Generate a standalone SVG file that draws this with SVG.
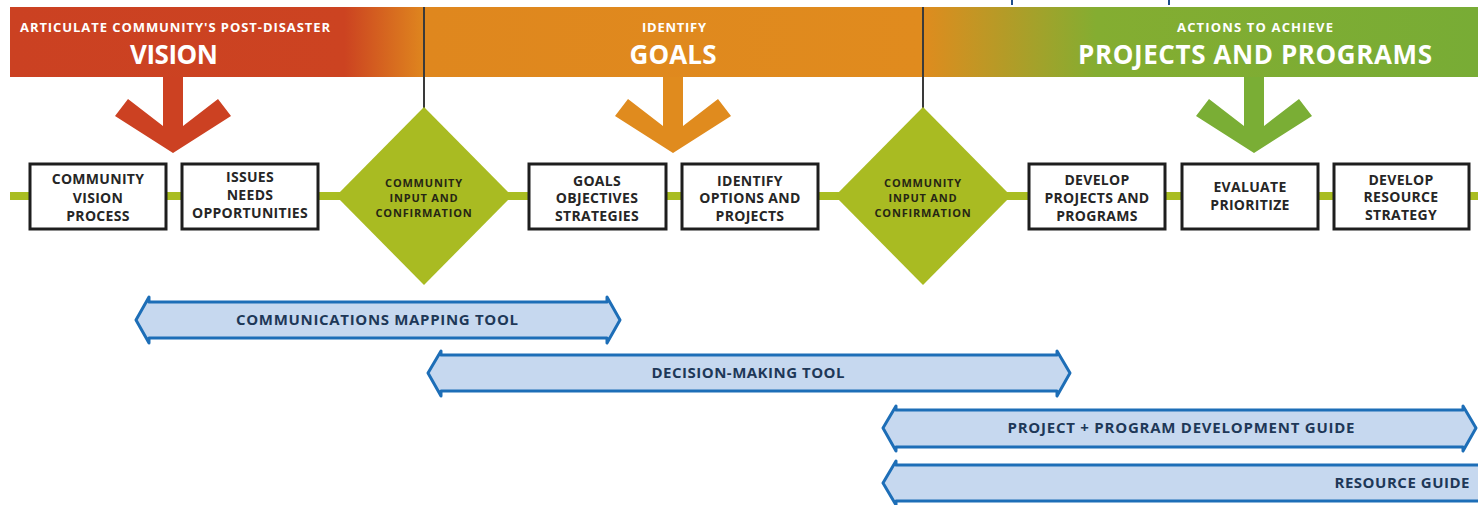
<svg xmlns="http://www.w3.org/2000/svg" width="1478" height="505" viewBox="0 0 1478 505">
<defs>
<linearGradient id="bandGrad" gradientUnits="userSpaceOnUse" x1="10" y1="0" x2="1478" y2="0">
<stop offset="0" stop-color="#CB4122"/>
<stop offset="0.228" stop-color="#CC4321"/>
<stop offset="0.283" stop-color="#DF871E"/>
<stop offset="0.62" stop-color="#E08B1E"/>
<stop offset="0.74" stop-color="#84AD31"/>
<stop offset="1" stop-color="#78AC35"/>
</linearGradient>
<style>
text{font-family:"Open Sans","Liberation Sans",sans-serif;font-weight:bold;text-anchor:middle}
.hsub{fill:#fff;font-size:13px}
.hmain{fill:#fff;font-size:26px}
.box rect{fill:#fff;stroke:#1e1e1e;stroke-width:3}
.box text{fill:#262626;font-size:14px;letter-spacing:0.3px}
.dia polygon{fill:#A9BB22}
.dia text{fill:#262614;font-size:11px;letter-spacing:0.8px}
.ban polygon{fill:#C6D8EF;stroke:#1D6EB7;stroke-width:3;stroke-linejoin:round}
.ban text{fill:#1E3858;font-size:15px}
.vline{stroke:#3a3a3a;stroke-width:2}
.flow{stroke:#A9BD22;stroke-width:8}
</style>
</defs>
<rect width="1478" height="505" fill="#fff"/>
<line x1="1012" y1="0" x2="1012" y2="5" stroke="#1F4E8C" stroke-width="2"/>
<line x1="1169" y1="0" x2="1169" y2="5" stroke="#1F4E8C" stroke-width="2"/>

<g id="header">
<rect x="10" y="7" width="1468" height="70" fill="url(#bandGrad)"/>
</g>

<g id="connectors">
<line class="flow" x1="10" y1="196" x2="1478" y2="196"/>
<line class="vline" x1="424" y1="7" x2="424" y2="110"/>
<line class="vline" x1="923" y1="7" x2="923" y2="110"/>
</g>

<g id="phase-vision">
<text class="hsub" x="175" y="32" textLength="310">ARTICULATE COMMUNITY'S POST-DISASTER</text>
<text class="hmain" x="174" y="64" textLength="88">VISION</text>
<polygon fill="#CC4122" points="163,77 183,77 183,126 218,99 231,116 173,153 115,116 128,99 163,126"/>
</g>
<g id="phase-goals">
<text class="hsub" x="674" y="32" textLength="64">IDENTIFY</text>
<text class="hmain" x="673" y="64" textLength="87">GOALS</text>
<polygon fill="#E08B1E" points="663,77 683,77 683,126 718,99 731,116 673,153 615,116 628,99 663,126"/>
</g>
<g id="phase-projects">
<text class="hsub" x="1255" y="32" textLength="156">ACTIONS TO ACHIEVE</text>
<text class="hmain" x="1255" y="64" textLength="354">PROJECTS AND PROGRAMS</text>
<polygon fill="#7AAE35" points="1244,77 1264,77 1264,126 1299,99 1312,116 1254,153 1196,116 1209,99 1244,126"/>
</g>

<g id="box-community-vision" class="box">
<rect x="30" y="164" width="136" height="65"/>
<text x="98" y="184">COMMUNITY</text>
<text x="98" y="203">VISION</text>
<text x="98" y="221">PROCESS</text>
</g>
<g id="box-issues" class="box">
<rect x="182" y="164" width="136" height="65"/>
<text x="250" y="182">ISSUES</text>
<text x="250" y="200">NEEDS</text>
<text x="250" y="218">OPPORTUNITIES</text>
</g>
<g id="dia-input-1" class="dia">
<polygon points="424,107 512,196 424,285 336,196"/>
<text x="424" y="187">COMMUNITY</text>
<text x="424" y="202">INPUT AND</text>
<text x="424" y="217">CONFIRMATION</text>
</g>
<g id="box-goals" class="box">
<rect x="529" y="164" width="137" height="65"/>
<text x="597" y="186">GOALS</text>
<text x="597" y="203">OBJECTIVES</text>
<text x="597" y="221">STRATEGIES</text>
</g>
<g id="box-options" class="box">
<rect x="682" y="164" width="136" height="65"/>
<text x="750" y="186">IDENTIFY</text>
<text x="750" y="203">OPTIONS AND</text>
<text x="750" y="221">PROJECTS</text>
</g>
<g id="dia-input-2" class="dia">
<polygon points="923,107 1011,196 923,285 835,196"/>
<text x="923" y="187">COMMUNITY</text>
<text x="923" y="202">INPUT AND</text>
<text x="923" y="217">CONFIRMATION</text>
</g>
<g id="box-develop-projects" class="box">
<rect x="1029" y="164" width="136" height="65"/>
<text x="1097" y="185">DEVELOP</text>
<text x="1097" y="203">PROJECTS AND</text>
<text x="1097" y="221">PROGRAMS</text>
</g>
<g id="box-evaluate" class="box">
<rect x="1182" y="164" width="136" height="65"/>
<text x="1250" y="192">EVALUATE</text>
<text x="1250" y="210">PRIORITIZE</text>
</g>
<g id="box-resource-strategy" class="box">
<rect x="1334" y="164" width="135" height="65"/>
<text x="1401" y="185">DEVELOP</text>
<text x="1401" y="202">RESOURCE</text>
<text x="1401" y="220">STRATEGY</text>
</g>

<g id="tool-communications" class="ban">
<polygon points="136,320 149,297 149,302 607,302 607,297 620,320 607,343 607,338 149,338 149,343"/>
<text x="377" y="325" textLength="282">COMMUNICATIONS MAPPING TOOL</text>
</g>
<g id="tool-decision" class="ban">
<polygon points="428,373 441,351 441,355 1057,355 1057,351 1070,373 1057,396 1057,391 441,391 441,396"/>
<text x="748" y="378" textLength="193">DECISION-MAKING TOOL</text>
</g>
<g id="tool-project-guide" class="ban">
<polygon points="883,428 896,406 896,410 1463,410 1463,406 1476,428 1463,451 1463,447 896,447 896,451"/>
<text x="1181" y="433" textLength="347">PROJECT + PROGRAM DEVELOPMENT GUIDE</text>
</g>
<g id="tool-resource-guide" class="ban">
<polygon points="883,483 896,461 896,465 1490,465 1490,501 896,501 896,505"/>
<text x="1402" y="488" textLength="135">RESOURCE GUIDE</text>
</g>
</svg>
